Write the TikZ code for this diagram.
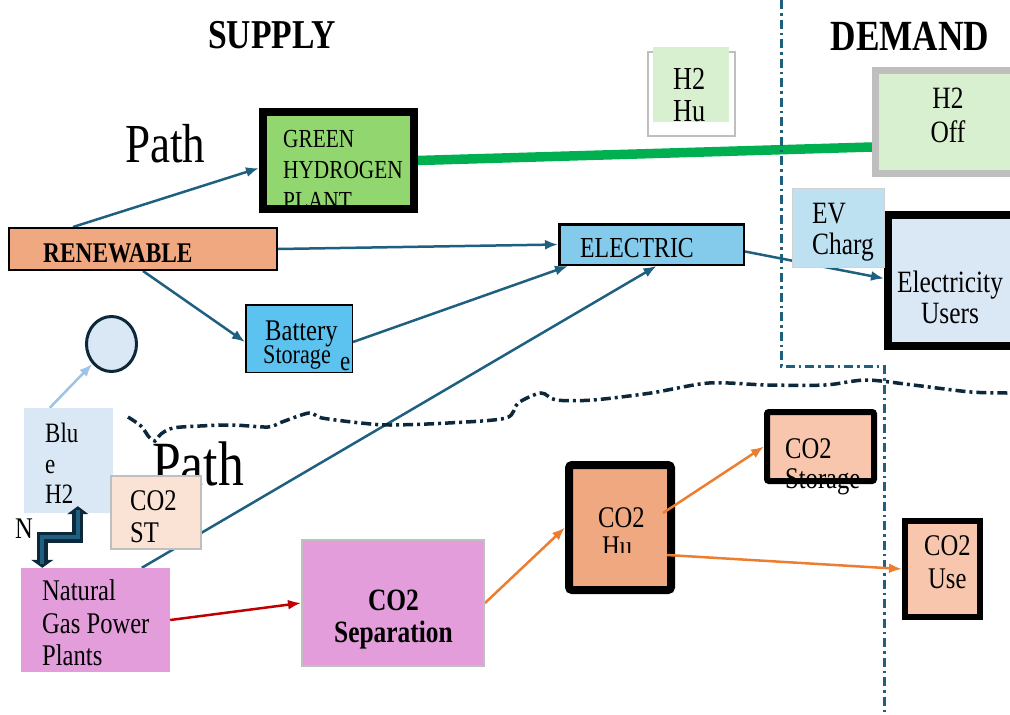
\documentclass[tikz,border=0pt]{standalone}
\usepackage{fontspec}
\setmainfont{Liberation Serif}[FakeStretch=0.82]
\usetikzlibrary{arrows.meta,shapes.geometric,calc}
\definecolor{salmon}{RGB}{240,168,128}
\definecolor{greenA}{RGB}{146,214,112}
\definecolor{elecblue}{RGB}{132,202,235}
\definecolor{battblue}{RGB}{92,195,240}
\definecolor{usersblue}{RGB}{218,232,246}
\definecolor{evblue}{RGB}{190,225,242}
\definecolor{hgreen}{RGB}{217,240,208}
\definecolor{grayA}{RGB}{191,191,191}
\definecolor{stcol}{RGB}{250,226,213}
\definecolor{pinkA}{RGB}{227,157,219}
\definecolor{storcol}{RGB}{247,198,172}
\definecolor{tealA}{RGB}{31,96,128}
\definecolor{navyA}{RGB}{12,40,58}
\definecolor{glineA}{RGB}{0,176,80}
\definecolor{lblue}{RGB}{157,195,230}
\definecolor{redA}{RGB}{192,0,0}
\definecolor{orangeA}{RGB}{237,125,49}
\pgfdeclarelayer{back}
\pgfdeclarelayer{bg}
\pgfsetlayers{back,bg,main}
\newcommand\fs[1]{\fontsize{#1}{#1}\selectfont}
\begin{document}
\begin{tikzpicture}[x=1pt,y=-1pt,
  box/.style={rectangle,inner sep=0pt,anchor=center},
  txt/.style={anchor=base west,inner sep=0pt},
  ctxt/.style={anchor=base,inner sep=0pt},
  arr/.style={draw=tealA,line width=2.5pt,-{Latex[length=13pt,width=10pt]}},
  garr/.style={draw=glineA,line width=9.5pt},
  larr/.style={draw=lblue,line width=2.5pt,-{Latex[length=13pt,width=10pt]}},
  rarr/.style={draw=redA,line width=2.5pt,-{Latex[length=13pt,width=10pt]}},
  oarr/.style={draw=orangeA,line width=2.5pt,-{Latex[length=13pt,width=10pt]}},
  bdash/.style={draw=tealA,line width=3pt,dash pattern=on 9pt off 4pt on 2.5pt off 4pt},
  ndash/.style={draw=navyA,line width=3.5pt,dash pattern=on 10pt off 4pt on 3pt off 4pt}]
\useasboundingbox (0,0) rectangle (1010,715);
\clip (0,0) rectangle (1010,715);
\begin{pgfonlayer}{back}
\fill[white] (0,0) rectangle (1010,715);
\end{pgfonlayer}

% titles
\node[ctxt,font=\bfseries\fs{41}] (tsup) at (272,48) {SUPPLY};
\node[ctxt,font=\bfseries\fs{43}] (tdem) at (910,50) {DEMAND};
\node[txt,font=\fs{55}] (path1) at (125,162) {Path};
\node[txt,font=\fs{63}] (path2) at (152,485) {Path};

% H2 Hu
\node[box,draw=grayA,line width=2pt,minimum width=87pt,minimum height=84pt] (h2hu) at (691.5,94) {};
\node[box,fill=hgreen,minimum width=76pt,minimum height=75pt] (h2hufill) at (691,84.5) {};
\node[txt,font=\fs{32}] (th2a) at (673,89) {H2};
\node[txt,font=\fs{32}] (th2b) at (673,121) {Hu};

% H2 Off
\node[box,draw=grayA,line width=7pt,fill=hgreen,minimum width=141pt,minimum height=103pt] (h2off) at (946,122) {};
\node[ctxt,font=\fs{31}] (toffa) at (948,108) {H2};
\node[ctxt,font=\fs{31}] (toffb) at (948,142) {Off};

% green plant
\node[box,draw=black,line width=8pt,fill=greenA,minimum width=151pt,minimum height=97pt] (green) at (338.5,160.5) {};
\begin{scope}
\clip (263,112) rectangle (414,204);
\node[txt,font=\fs{26}] (tg1) at (283,147) {GREEN};
\node[txt,font=\fs{26}] (tg2) at (283,178) {HYDROGEN};
\node[txt,font=\fs{26}] (tg3) at (283,209) {PLANT};
\end{scope}

% renewable
\node[box,draw=black,line width=2pt,fill=salmon,minimum width=268pt,minimum height=42pt] (ren) at (143,249) {};
\node[txt,font=\bfseries\fs{28.5}] (tren) at (43,262) {RENEWABLE};

% electric
\node[box,draw=black,line width=2.5pt,fill=elecblue,minimum width=184.5pt,minimum height=40.5pt] (elec) at (651.5,244.5) {};
\node[txt,font=\fs{29}] (telec) at (580,257) {ELECTRIC};

% battery
\node[box,draw=black,line width=1.5pt,fill=battblue,minimum width=106.5pt,minimum height=67.5pt] (batt) at (299,338.5) {};
\node[txt,font=\fs{30}] (tb1) at (265,340) {Battery};
\node[txt,font=\fs{27}] (tb2) at (263,363) {Storage};
\node[txt,font=\fs{28}] (tb3) at (340,370) {e};

% electricity users
\node[box,draw=black,line width=8pt,fill=usersblue,minimum width=128pt,minimum height=131pt] (users) at (952,280.5) {};
\node[ctxt,font=\fs{31}] (tu1) at (950,292) {Electricity};
\node[ctxt,font=\fs{31}] (tu2) at (950,323) {Users};

% EV charg
\node[box,draw=grayA!70,line width=1pt,fill=evblue,minimum width=92pt,minimum height=79pt] (ev) at (838.5,228) {};
\node[txt,font=\fs{31}] (tev1) at (812,223) {EV};
\node[txt,font=\fs{31}] (tev2) at (812,254) {Charg};

% circle and blue H2
\node[ellipse,draw=navyA,line width=3pt,fill=usersblue,minimum width=50pt,minimum height=55pt,inner sep=0pt] (circ) at (111.5,344) {};
\node[box,fill=usersblue,minimum width=89pt,minimum height=105pt] (blueh2) at (68.5,460.5) {};
\node[txt,font=\fs{28}] (tbl1) at (45,442) {Blu};
\node[txt,font=\fs{28}] (tbl2) at (45,473) {e};
\node[txt,font=\fs{28}] (tbl3) at (45,503) {H2};

% CO2 ST
\node[box,draw=grayA,line width=2pt,fill=stcol,minimum width=90pt,minimum height=73pt] (co2st) at (156,512.5) {};
\node[txt,font=\fs{30}] (tst1) at (130,510) {CO2};
\node[txt,font=\fs{30}] (tst2) at (130,542) {ST};

\node[txt,font=\fs{30}] (tn) at (15,538) {N};

% natural gas
\node[box,fill=pinkA,minimum width=149pt,minimum height=104pt] (ng) at (95.5,620) {};
\node[txt,font=\fs{30}] (tng1) at (42,600) {Natural};
\node[txt,font=\fs{30}] (tng2) at (42,633) {Gas Power};
\node[txt,font=\fs{30}] (tng3) at (42,665) {Plants};

% CO2 separation
\node[box,draw=grayA,line width=2pt,fill=pinkA,minimum width=182pt,minimum height=126pt] (sep) at (393,603) {};
\node[ctxt,font=\bfseries\fs{31}] (tsep1) at (393.5,610) {CO2};
\node[ctxt,font=\bfseries\fs{31}] (tsep2) at (393.5,642) {Separation};

% CO2 hub
\node[box,draw=black,line width=8pt,rounded corners=3pt,fill=salmon,minimum width=102pt,minimum height=125pt] (hu) at (620,527.5) {};
\node[txt,font=\fs{30}] (thu1) at (598,527) {CO2};
\begin{scope}
\clip (569,465) rectangle (671,552);
\node[txt,font=\fs{30}] (thu2) at (602,556) {Hu};
\end{scope}

% CO2 storage
\node[box,draw=black,line width=6pt,rounded corners=2pt,fill=storcol,minimum width=107pt,minimum height=69pt] (stor) at (820.5,446.5) {};
\node[txt,font=\fs{30}] (tsto1) at (785,458) {CO2};
\node[txt,font=\fs{30}] (tsto2) at (785,488) {Storage};

% CO2 use
\node[box,draw=black,line width=6pt,fill=storcol,minimum width=75pt,minimum height=96pt] (use) at (942.5,569) {};
\node[txt,font=\fs{30}] (tuse1) at (924,555) {CO2};
\node[txt,font=\fs{30}] (tuse2) at (928,588) {Use};

% connectors under boxes
\begin{pgfonlayer}{bg}
\draw[arr] ([xshift=65pt]ren.north west) -- ([yshift=-7.5pt]green.west);
\draw[arr] (ren.east) -- (elec.west);
\draw[arr] (ren.south) -- ([yshift=-3.5pt]batt.west);
\draw[arr] ([yshift=-3.5pt]batt.east) -- ([xshift=10pt]elec.south west);
\draw[arr] ([xshift=121pt]ng.north west) -- ([xshift=5pt]elec.south);
\draw[arr] ([yshift=-7pt]elec.east) -- ([yshift=2pt]users.west);
\draw[garr] (green.east) -- ([yshift=-25pt]h2off.west);
\draw[larr] ([xshift=26pt]blueh2.north west) -- (circ);
\draw[rarr] (ng.east) -- (sep.west);
\draw[oarr] (sep.east) -- (hu.west);
% divider lines
\draw[bdash] (781,0) -- (781,366) -- (884,366) -- (884,715);
\draw[ndash] plot[smooth,tension=0.5] coordinates {(128,417) (141,426) (149,437) (155,441) (161,434) (173,428) (200,426) (233,425) (268,427) (282,422) (309,413) (322,418) (361,423) (390,425) (448,423) (506,418) (518,403) (541,393) (556,400) (593,400) (651,393) (709,383) (767,385) (825,385) (866,380) (913,385) (971,392) (1012,393)};
\end{pgfonlayer}

% connectors over boxes
\draw[oarr] ([xshift=-12pt,yshift=14.5pt]hu.east) -- (stor.west);
\draw[oarr] ([xshift=-8pt,yshift=-27.5pt]hu.east) -- (use.west);

% double zigzag arrow
\coordinate (zzA) at ([xshift=21.5pt]ng.north west);
\coordinate (zzB) at ([xshift=54pt,yshift=7pt]blueh2.south west);
\draw[navyA,line width=11pt,{Triangle[length=8pt,width=22pt]}-{Triangle[length=8pt,width=21pt]}] (zzA) -- (zzA |- 0,537) -- (zzB |- 0,537) -- (zzB);
\draw[tealA,line width=4pt,shorten <=4pt,shorten >=4pt] (zzA) -- (zzA |- 0,537) -- (zzB |- 0,537) -- (zzB);
\end{tikzpicture}
\end{document}
